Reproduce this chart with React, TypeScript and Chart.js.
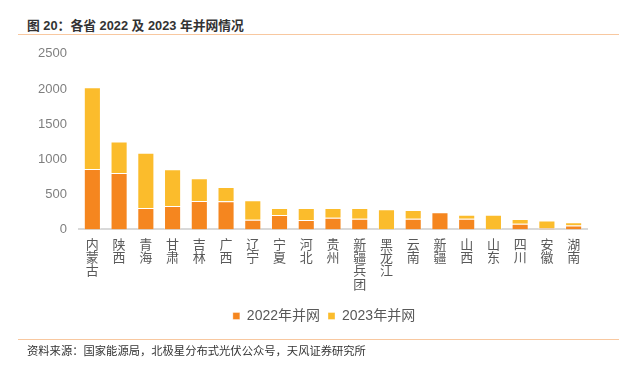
import React, { useEffect, useRef } from "react";
import { Chart, registerables } from "chart.js";

Chart.register(...registerables);

const categories = ["内蒙古", "陕西", "青海", "甘肃", "吉林", "广西", "辽宁", "宁夏", "河北", "贵州", "新疆兵团", "黑龙江", "云南", "新疆", "山西", "山东", "四川", "安徽", "湖南"];
const grid2022 = [861, 804, 304, 333, 404, 400, 137, 204, 133, 166, 151, 0, 151, 243, 151, 0, 80, 20, 57];
const grid2023 = [1162, 447, 786, 524, 325, 204, 277, 100, 171, 138, 153, 286, 125, 0, 58, 209, 67, 109, 47];
const seriesNames = ["2022年并网", "2023年并网"];
const yMax = 2500;
const yStep = 500;

const FONT = 'Arial, "Liberation Sans", "Noto Sans CJK SC", sans-serif';

const legendShift = {
  id: "legendShift",
  afterLayout(chart: any) {
    if (chart.legend) {
      chart.legend.left = 61;
      chart.legend.right = 587;
    }
  },
};

export default function App() {
  const ref = useRef<HTMLCanvasElement>(null);
  useEffect(() => {
    if (!ref.current) return;
    const chart = new Chart(ref.current, {
      type: "bar",
      data: {
        labels: categories.map((c) => c.split("")),
        datasets: [
          {
            label: seriesNames[0],
            data: grid2022,
            backgroundColor: "#F5861F",
            borderColor: "rgba(255,255,255,0.35)",
            borderWidth: 1,
            barPercentage: 0.64,
            categoryPercentage: 1,
          },
          {
            label: seriesNames[1],
            data: grid2023,
            backgroundColor: "#FBBC2C",
            borderColor: "rgba(255,255,255,0.35)",
            borderWidth: 1,
            barPercentage: 0.64,
            categoryPercentage: 1,
          },
        ],
      },
      options: {
        animation: false,
        responsive: false,
        maintainAspectRatio: false,
        layout: { padding: { left: 0, right: 32, top: 4, bottom: 7 } },
        plugins: {
          tooltip: { enabled: false },
          legend: {
            position: "bottom",
            labels: {
              boxWidth: 7,
              boxHeight: 7,
              padding: 8,
              color: "#595959",
              font: { family: FONT, size: 14 },
            },
          },
        },
        scales: {
          x: {
            stacked: true,
            grid: { display: false, drawTicks: false },
            border: { color: "#d9d9d9", width: 2 },
            ticks: {
              color: "#595959",
              font: { family: FONT, size: 13, lineHeight: 1.03 },
              padding: 9,
              maxRotation: 0,
              autoSkip: false,
            },
          },
          y: {
            stacked: true,
            min: 0,
            max: yMax,
            grid: { display: false, drawTicks: false },
            border: { display: false },
            ticks: {
              stepSize: yStep,
              color: "#7f7f7f",
              font: { family: FONT, size: 13 },
              padding: 12,
              callback: (v: any) => String(v),
            },
            afterFit: (s: any) => {
              s.width = 79;
            },
          },
        },
      },
      plugins: [legendShift],
    });
    return () => chart.destroy();
  }, []);

  return (
    <div style={{ position: "fixed", left: 0, top: 0, width: 619, height: 368, background: "#fff", fontFamily: FONT }}>
      <div style={{ position: "absolute", left: 27, top: 17, fontSize: 12.8, fontWeight: "bold", color: "#333", lineHeight: "18px", whiteSpace: "nowrap" }}>
        图 20：各省 2022 及 2023 年并网情况
      </div>
      <div style={{ position: "absolute", left: 18, top: 34, width: 601, height: 1, background: "#F8C8A0" }} />
      <canvas ref={ref} width={619} height={306} style={{ position: "absolute", left: 0, top: 34, width: 619, height: 306 }} />
      <div style={{ position: "absolute", left: 18, top: 339, width: 601, height: 1, background: "#F8C8A0" }} />
      <div style={{ position: "absolute", left: 27, top: 343, fontSize: 11.3, color: "#333", lineHeight: "16px", whiteSpace: "nowrap" }}>
        资料来源：国家能源局，北极星分布式光伏公众号，天风证券研究所
      </div>
    </div>
  );
}
